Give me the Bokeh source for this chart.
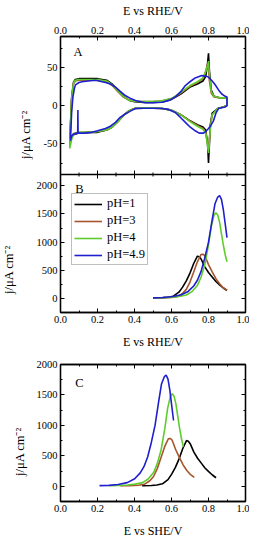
import math
from bokeh.plotting import figure
from bokeh.layouts import column, row
from bokeh.models import (LinearAxis, FixedTicker, CustomJSTickFormatter,
                          Range1d, Label, Legend, LegendItem, Span)
from bokeh.embed import file_html
from bokeh.resources import INLINE

# ---------------- data ----------------
labels = ["pH=1", "pH=3", "pH=4", "pH=4.9"]
colors = ["#000000", "#a8552e", "#5fcc2e", "#1f1fd0"]

# Panel A: cyclic voltammograms (E vs RHE / V, j / uA cm-2)
cv_E_ph1 = [0.05, 0.055, 0.06, 0.07, 0.08, 0.10, 0.15, 0.20, 0.25, 0.28, 0.31, 0.34, 0.37, 0.40, 0.45,
            0.50, 0.55, 0.60, 0.65, 0.70, 0.74, 0.77, 0.785, 0.795, 0.80, 0.805, 0.815, 0.83, 0.86, 0.895, 0.90,
            0.90, 0.88, 0.85, 0.82, 0.81, 0.80, 0.795, 0.785, 0.77, 0.74, 0.70, 0.65, 0.60, 0.55, 0.50,
            0.45, 0.40, 0.37, 0.34, 0.31, 0.28, 0.25, 0.20, 0.15, 0.10, 0.07, 0.06, 0.05]
cv_j_ph1 = [-52, -20, 10, 30, 34, 35, 35, 35, 33, 28, 20, 12, 7, 5, 4,
            4, 4.5, 8, 15, 24, 28, 32, 38, 55, 68, 45, 20, 12, 10, 10, 8,
            0, -2, -4, -10, -25, -75, -50, -32, -28, -25, -20, -12, -6, -4, -3.5,
            -3.5, -4, -7, -13, -21, -28, -32, -35, -35, -36, -38, -42, -52]
cv_E_ph3 = cv_E_ph1
cv_j_ph3 = [-48, -18, 8, 28, 32, 33, 33, 33, 31, 26, 18, 11, 7, 5.5, 5,
            5, 6, 9, 16, 25, 30, 35, 45, 54, 48, 32, 16, 11, 10, 10, 8,
            0, -2, -4, -12, -28, -58, -50, -35, -30, -26, -20, -12, -6, -4, -3,
            -3, -4, -7, -13, -21, -28, -32, -34, -35, -35, -37, -42, -48]
cv_E_ph4 = cv_E_ph1
cv_j_ph4 = [-56, -22, 8, 29, 33, 34, 34, 34, 32, 27, 19, 12, 7, 5.5, 5,
            5, 6, 9, 17, 26, 31, 36, 44, 52, 58, 40, 18, 12, 10, 10, 8,
            0, -2, -4, -12, -30, -62, -52, -36, -31, -27, -21, -12, -6, -4, -3,
            -3, -4, -7, -13, -21, -28, -32, -34, -35, -35, -37, -44, -56]
cv_E_ph49 = [0.054, 0.06, 0.067, 0.075, 0.081, 0.10, 0.117, 0.15, 0.19, 0.243, 0.27, 0.297, 0.32, 0.35,
             0.38, 0.405, 0.459, 0.50, 0.55, 0.59, 0.62, 0.65, 0.675, 0.70, 0.728, 0.764, 0.79, 0.80,
             0.82, 0.836, 0.855, 0.872, 0.89, 0.90,
             0.90, 0.89, 0.87, 0.854, 0.84, 0.827, 0.81, 0.80, 0.785, 0.773, 0.75, 0.728, 0.70, 0.675,
             0.65, 0.62, 0.58, 0.55, 0.50, 0.45, 0.405, 0.38, 0.35, 0.32, 0.297, 0.27, 0.243, 0.20,
             0.17, 0.13, 0.10, 0.095, 0.094, 0.093, 0.09, 0.072, 0.06, 0.054]
cv_j_ph49 = [-43, -10, 11, 22, 27, 30, 31, 32, 33, 30, 28, 24, 19, 13,
             9, 6.5, 3.5, 3.8, 4.3, 7, 11, 18, 26, 31, 36, 39, 38, 37,
             32, 27, 20, 15, 12, 11,
             0, -2, -3, -4, -10, -20, -27, -30, -34, -36, -36, -33, -28, -22,
             -16, -9, -5, -4, -3.5, -3.5, -4, -7, -11, -16, -22, -27, -30, -33,
             -35, -36, -36, -36, -6, -34, -36, -37, -40, -46]

# Panel B: linear sweeps vs RHE
lsv_E_ph1 = [0.50, 0.55, 0.58, 0.61, 0.64, 0.66, 0.68, 0.70, 0.72, 0.74, 0.75, 0.76, 0.78, 0.80, 0.82, 0.84, 0.86, 0.88, 0.90]
lsv_j_ph1 = [8, 12, 20, 40, 110, 200, 310, 450, 620, 750, 740, 700, 560, 460, 380, 300, 240, 185, 140]
lsv_E_ph3 = [0.50, 0.55, 0.60, 0.63, 0.66, 0.68, 0.70, 0.72, 0.74, 0.76, 0.77, 0.78, 0.80, 0.82, 0.84, 0.86, 0.88, 0.90]
lsv_j_ph3 = [8, 10, 18, 32, 90, 160, 290, 470, 650, 780, 785, 760, 600, 470, 350, 260, 190, 145]
lsv_E_ph4 = [0.50, 0.55, 0.60, 0.64, 0.68, 0.71, 0.74, 0.76, 0.78, 0.80, 0.815, 0.83, 0.84, 0.85, 0.86, 0.87, 0.88, 0.89, 0.90]
lsv_j_ph4 = [8, 12, 20, 35, 60, 120, 230, 380, 600, 950, 1280, 1480, 1520, 1480, 1350, 1150, 950, 780, 650]
lsv_E_ph49 = [0.50, 0.55, 0.60, 0.65, 0.69, 0.72, 0.74, 0.76, 0.78, 0.80, 0.82, 0.835, 0.85, 0.86, 0.87, 0.88, 0.89, 0.90]
lsv_j_ph49 = [10, 15, 30, 60, 124, 220, 322, 480, 720, 1000, 1400, 1680, 1800, 1825, 1760, 1580, 1330, 1080]

# Panel C: same sweeps vs SHE
she_E_ph1 = [0.441, 0.491, 0.521, 0.551, 0.581, 0.601, 0.621, 0.641, 0.661, 0.681, 0.691, 0.701, 0.721, 0.741, 0.761, 0.781, 0.801, 0.821, 0.841]
she_E_ph3 = [0.323, 0.373, 0.423, 0.453, 0.483, 0.503, 0.523, 0.543, 0.563, 0.583, 0.593, 0.603, 0.623, 0.643, 0.663, 0.683, 0.703, 0.723]
she_E_ph4 = [0.264, 0.314, 0.364, 0.404, 0.444, 0.474, 0.504, 0.524, 0.544, 0.564, 0.579, 0.594, 0.604, 0.614, 0.624, 0.634, 0.644, 0.654, 0.664]
she_E_ph49 = [0.211, 0.261, 0.311, 0.361, 0.401, 0.431, 0.451, 0.471, 0.491, 0.511, 0.531, 0.546, 0.561, 0.571, 0.581, 0.591, 0.601, 0.611]

# axis limits and ticks
A_LO, A_HI = -90, 90
B_LO, B_HI = -250, 2200
C_LO, C_HI = -250, 2000
a_major = [-50, 0, 50]
a_minor = [-75, -25, 25, 75]
j_major = [0, 500, 1000, 1500, 2000]
j_minor = [250, 750, 1250, 1750]
x_major = [0.0, 0.2, 0.4, 0.6, 0.8, 1.0]
x_minor = [0.1, 0.3, 0.5, 0.7, 0.9]

FONT = "Liberation Serif"
YLAB = "j/\u03bcA cm\u207b\u00b2"
LW = 1.3

# layout sizes (px)
TW = 33            # width of the strip that carries the y titles
LB = 24            # left border of the plots (tick labels)
FW = 185           # frame width
AB_TOP, AB_FRAME, AB_BOT = 30, 276, 39
C_TOP, C_FRAME, C_BOT = 13, 137, 39

# Panels A and B share one frame: B uses the lower half of the main y range,
# A uses the upper half of an extra y range.
B_FULL_HI = B_HI + (B_HI - B_LO)
A_FULL_LO = A_LO - (A_HI - A_LO)


def a_to_b(v):
    return B_LO + (v - A_FULL_LO) / (A_HI - A_FULL_LO) * (B_FULL_HI - B_LO)


def style_axis(ax, labels_on):
    ax.axis_line_color = "black"
    ax.axis_line_width = LW
    ax.major_tick_in = 4
    ax.major_tick_out = 0
    ax.minor_tick_in = 2
    ax.minor_tick_out = 0
    ax.major_tick_line_width = 1
    ax.minor_tick_line_width = 1
    ax.major_label_text_font = FONT
    ax.major_label_text_font_size = "10.5px"
    ax.major_label_text_color = "black"
    if labels_on:
        ax.major_label_standoff = 3
    else:
        ax.formatter = CustomJSTickFormatter(code="return ''")
        ax.major_label_standoff = 0
        ax.major_label_text_font_size = "0px"


def x_axis(p, side, labels_on, title=None, standoff=9):
    ax = LinearAxis(ticker=FixedTicker(ticks=x_major, minor_ticks=x_minor))
    style_axis(ax, labels_on)
    if labels_on:
        ax.formatter = CustomJSTickFormatter(code="return tick.toFixed(1)")
    if title:
        ax.axis_label = title
        ax.axis_label_text_font = FONT
        ax.axis_label_text_font_size = "12px"
        ax.axis_label_text_font_style = "normal"
        ax.axis_label_text_color = "black"
        ax.axis_label_standoff = standoff
    p.add_layout(ax, side)


def panel_label(p, txt, x, y, **kw):
    p.add_layout(Label(x=x, y=y, text=txt, text_font=FONT, text_font_size="12.5px",
                       text_baseline="middle", text_color="black", **kw))


def base_fig(frame_h, y_range, top, bottom):
    p = figure(frame_width=FW, frame_height=frame_h, output_backend="svg",
               toolbar_location=None, x_axis_location=None, y_axis_location=None,
               x_range=Range1d(0, 1), y_range=y_range,
               min_border_left=LB, min_border_right=4,
               min_border_top=top, min_border_bottom=bottom)
    p.xgrid.visible = False
    p.ygrid.visible = False
    p.outline_line_color = "black"
    p.outline_line_width = LW
    p.background_fill_color = "white"
    p.border_fill_color = "white"
    return p


def title_strip(height, positions):
    """Narrow strip left of a plot carrying rotated y-axis titles; positions in px."""
    t = figure(frame_width=TW, frame_height=height, output_backend="svg",
               toolbar_location=None, x_axis_location=None, y_axis_location=None,
               x_range=Range1d(0, TW), y_range=Range1d(height, 0), min_border=0)
    t.xgrid.visible = False
    t.ygrid.visible = False
    t.outline_line_color = None
    t.background_fill_color = "white"
    t.border_fill_color = "white"
    for (x, y) in positions:
        t.add_layout(Label(x=x, y=y, text=YLAB, text_font=FONT, text_font_size="12.5px",
                           text_align="center", text_baseline="middle", angle=math.pi / 2,
                           text_color="black"))
    return t


# ---------------- Panels A + B ----------------
pab = base_fig(AB_FRAME, Range1d(B_LO, B_FULL_HI), AB_TOP, AB_BOT)
pab.extra_y_ranges = {"cv": Range1d(A_FULL_LO, A_HI)}

ab_major = j_major + [a_to_b(v) for v in a_major]
ab_minor = j_minor + [a_to_b(v) for v in a_minor]
fmt = CustomJSTickFormatter(code=f"""
if (tick > {B_HI}) {{
  const a = (tick - ({B_LO})) / ({B_FULL_HI - B_LO}) * ({A_HI - A_FULL_LO}) + ({A_FULL_LO});
  return Math.round(a).toString();
}}
return tick.toFixed(0);
""")
yl = LinearAxis(ticker=FixedTicker(ticks=ab_major, minor_ticks=ab_minor), formatter=fmt)
style_axis(yl, True)
pab.add_layout(yl, "left")
yr = LinearAxis(ticker=FixedTicker(ticks=ab_major, minor_ticks=ab_minor))
style_axis(yr, False)
pab.add_layout(yr, "right")
x_axis(pab, "above", True, "E vs RHE/V", standoff=6)
x_axis(pab, "below", True, "E vs RHE/V", standoff=9)

# divider between A and B, with ticks on both sides
pab.add_layout(Span(location=B_HI, dimension="width", line_color="black", line_width=LW))
px_per_unit = AB_FRAME / (B_FULL_HI - B_LO)
inner_x = x_major[1:-1]
pab.segment(x0=inner_x, x1=inner_x, y0=[B_HI - 4 / px_per_unit] * len(inner_x),
            y1=[B_HI + 4 / px_per_unit] * len(inner_x), line_color="black", line_width=1)
pab.segment(x0=x_minor, x1=x_minor, y0=[B_HI - 2 / px_per_unit] * len(x_minor),
            y1=[B_HI + 2 / px_per_unit] * len(x_minor), line_color="black", line_width=1)

for E, j, c in zip([cv_E_ph1, cv_E_ph3, cv_E_ph4, cv_E_ph49],
                   [cv_j_ph1, cv_j_ph3, cv_j_ph4, cv_j_ph49], colors):
    pab.line(E, j, line_color=c, line_width=1.6, y_range_name="cv")

items = []
for E, j, c, lab in zip([lsv_E_ph1, lsv_E_ph3, lsv_E_ph4, lsv_E_ph49],
                        [lsv_j_ph1, lsv_j_ph3, lsv_j_ph4, lsv_j_ph49], colors, labels):
    r = pab.line(E, j, line_color=c, line_width=1.6)
    items.append(LegendItem(label=lab, renderers=[r]))
leg = Legend(items=items, location=(11, 47))
leg.label_text_font = FONT
leg.label_text_font_size = "12.5px"
leg.label_text_color = "black"
leg.glyph_width = 28
leg.glyph_height = 14
leg.label_height = 14
leg.label_standoff = 5
leg.spacing = 2
leg.padding = 2
leg.margin = 0
leg.border_line_color = "#808080"
leg.border_line_width = 1
leg.background_fill_alpha = 1
pab.add_layout(leg, "center")

panel_label(pab, "A", 0.07, 70, y_range_name="cv")
panel_label(pab, "B", 0.08, 1950)

ab_h = AB_TOP + AB_FRAME + AB_BOT
tab = title_strip(ab_h, [(25, 98), (8, 233)])

# ---------------- Panel C ----------------
pc = base_fig(C_FRAME, Range1d(C_LO, C_HI), C_TOP, C_BOT)
ycl = LinearAxis(ticker=FixedTicker(ticks=j_major, minor_ticks=j_minor))
style_axis(ycl, True)
pc.add_layout(ycl, "left")
ycr = LinearAxis(ticker=FixedTicker(ticks=j_major, minor_ticks=j_minor))
style_axis(ycr, False)
pc.add_layout(ycr, "right")
x_axis(pc, "above", False)
x_axis(pc, "below", True, "E vs SHE/V", standoff=9)
for E, j, c in zip([she_E_ph1, she_E_ph3, she_E_ph4, she_E_ph49],
                   [lsv_j_ph1, lsv_j_ph3, lsv_j_ph4, lsv_j_ph49], colors):
    pc.line(E, j, line_color=c, line_width=1.6)
panel_label(pc, "C", 0.08, 1700)

c_h = C_TOP + C_FRAME + C_BOT
tc = title_strip(c_h, [(19, 87)])

layout = column(row(tab, pab, spacing=0), row(tc, pc, spacing=0), spacing=0)
open("out.html", "w").write(file_html(layout, INLINE))
